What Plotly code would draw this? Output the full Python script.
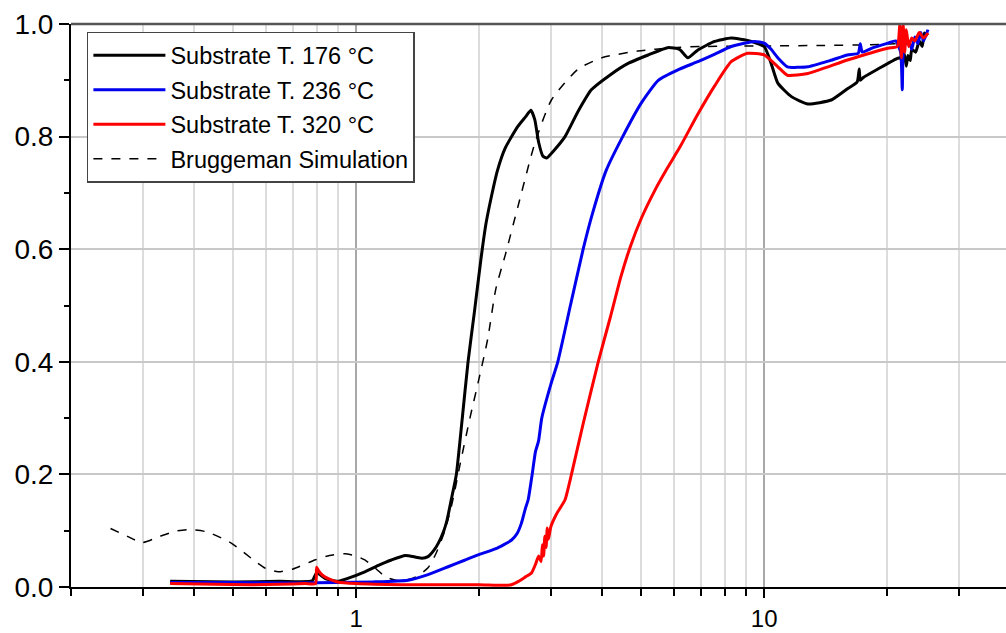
import math
import plotly.graph_objects as go

# ---- data ----
black_x = [0.35, 0.50, 0.65, 0.78, 0.80, 0.84, 0.90, 0.95, 1.05, 1.13, 1.22, 1.32, 1.40, 1.45, 1.50,
           1.55, 1.59, 1.64, 1.67, 1.71, 1.76, 1.82, 1.88, 1.95, 2.02, 2.08, 2.14, 2.22, 2.32, 2.49, 2.60, 2.68,
           2.74, 2.80, 2.87, 2.93, 3.05, 3.25, 3.50, 3.77, 4.20, 4.64, 5.20, 5.80, 6.20, 6.50, 6.88,
           7.56, 8.30, 9.10, 10.0, 10.4, 10.8, 11.66, 12.8, 14.6, 16.0, 16.9, 17.1, 17.2, 17.5, 19.0,
           20.8, 21.5, 21.8, 22.0, 22.3, 22.5, 22.8, 23.0, 23.5, 24.0, 24.4, 24.7, 25.2]
black_y = [0.010, 0.009, 0.010, 0.011, 0.025, 0.015, 0.010, 0.015, 0.027, 0.038, 0.048, 0.056, 0.053, 0.051, 0.054,
           0.065, 0.078, 0.100, 0.119, 0.155, 0.200, 0.300, 0.400, 0.490, 0.580, 0.645, 0.690, 0.740, 0.780, 0.818, 0.835, 0.847,
           0.830, 0.790, 0.765, 0.762, 0.775, 0.800, 0.845, 0.883, 0.910, 0.930, 0.945, 0.958, 0.955, 0.940, 0.954,
           0.969, 0.975, 0.971, 0.960, 0.930, 0.895, 0.871, 0.858, 0.865, 0.885, 0.897, 0.920, 0.900, 0.905, 0.920,
           0.936, 0.940, 0.935, 0.950, 0.925, 0.944, 0.935, 0.955, 0.950, 0.970, 0.960, 0.984, 0.980]

blue_x = [0.35, 0.50, 0.70, 0.90, 1.10, 1.34, 1.50, 1.68, 1.85, 1.99, 2.20, 2.40, 2.48, 2.54, 2.60,
          2.64, 2.70, 2.75, 2.80, 2.85, 3.00, 3.12, 3.35, 3.60, 3.80, 4.10, 4.50, 5.00, 5.50, 6.20, 6.88,
          7.50, 8.30, 9.47, 10.0, 10.4, 10.8, 11.4, 12.8, 14.5, 16.0, 17.0, 17.2, 17.4, 18.5, 20.1,
          21.0, 21.6, 21.8, 22.0, 22.6, 23.0, 23.4, 23.8, 24.2, 24.6, 25.2]
blue_y = [0.008, 0.008, 0.007, 0.008, 0.009, 0.012, 0.022, 0.036, 0.048, 0.057, 0.068, 0.083, 0.095, 0.113, 0.140,
          0.155, 0.200, 0.240, 0.260, 0.300, 0.360, 0.400, 0.500, 0.600, 0.665, 0.740, 0.800, 0.860, 0.900, 0.920, 0.933,
          0.945, 0.960, 0.969, 0.966, 0.955, 0.940, 0.924, 0.924, 0.935, 0.945, 0.948, 0.965, 0.950, 0.958, 0.966,
          0.970, 0.950, 0.883, 0.960, 0.970, 0.955, 0.977, 0.965, 0.985, 0.970, 0.990]

red_x = [0.35, 0.45, 0.55, 0.65, 0.75, 0.795, 0.80, 0.81, 0.83, 0.86, 0.90, 1.00, 1.30, 1.70, 2.00,
         2.30, 2.40, 2.50, 2.60, 2.69, 2.75, 2.80, 2.84, 2.86, 2.88, 2.90, 2.92, 2.94, 2.96, 3.00,
         3.10, 3.25, 3.37, 3.60, 3.92, 4.20, 4.45, 4.70, 5.00, 5.40, 5.80, 6.20, 6.88, 7.56, 8.30, 9.10, 10.0, 10.8,
         11.4, 12.8, 16.0, 20.1, 21.2, 21.5, 21.7, 21.9, 22.1, 22.3, 22.6, 23.0, 23.4, 24.0, 24.6, 25.2]
red_y = [0.006, 0.005, 0.004, 0.005, 0.006, 0.006, 0.035, 0.028, 0.020, 0.014, 0.009, 0.006, 0.004, 0.004, 0.004,
         0.003, 0.004, 0.010, 0.018, 0.025, 0.040, 0.055, 0.045, 0.075, 0.055, 0.090, 0.070, 0.105, 0.085, 0.107,
         0.130, 0.155, 0.200, 0.290, 0.400, 0.480, 0.550, 0.605, 0.655, 0.705, 0.745, 0.780, 0.840, 0.890, 0.933, 0.948, 0.945, 0.924,
         0.909, 0.912, 0.936, 0.957, 0.960, 1.000, 0.940, 1.000, 0.950, 0.990, 0.960, 0.975, 0.970, 0.985, 0.975, 0.984]

brug_x = [0.25, 0.275, 0.299, 0.33, 0.36, 0.387, 0.43, 0.494, 0.56, 0.60, 0.644, 0.70, 0.792, 0.86, 0.938,
          1.00, 1.05, 1.12, 1.18, 1.25, 1.32, 1.40, 1.50, 1.57, 1.65, 1.72, 1.80, 1.90, 2.00, 2.10,
          2.20, 2.32, 2.49, 2.74, 3.01, 3.50, 4.00, 4.90, 6.00, 7.00, 10.0, 14.0, 18.0, 21.0]
brug_y = [0.104, 0.090, 0.079, 0.090, 0.099, 0.102, 0.098, 0.078, 0.048, 0.033, 0.027, 0.032, 0.048, 0.056, 0.059,
          0.055, 0.048, 0.032, 0.018, 0.012, 0.012, 0.018, 0.034, 0.060, 0.100, 0.150, 0.220, 0.300, 0.370, 0.440,
          0.530, 0.590, 0.675, 0.788, 0.865, 0.920, 0.940, 0.952, 0.958, 0.960, 0.961, 0.962, 0.963, 0.965]

series_names = ["Substrate T. 176 °C", "Substrate T. 236 °C", "Substrate T. 320 °C", "Bruggeman Simulation"]

x_major = [1, 10]
x_major_text = ["1", "10"]
x_minor = [0.2, 0.3, 0.4, 0.5, 0.6, 0.7, 0.8, 0.9, 2, 3, 4, 5, 6, 7, 8, 9, 20, 30]
y_major = [0.0, 0.2, 0.4, 0.6, 0.8, 1.0]
y_major_text = ["0.0", "0.2", "0.4", "0.6", "0.8", "1.0"]
y_minor = [0.1, 0.3, 0.5, 0.7, 0.9]

fig = go.Figure()
fig.add_trace(go.Scatter(x=brug_x, y=brug_y, mode="lines", name=series_names[3], legendrank=4,
                         legendgroup="d",
                         line=dict(color="black", width=1.5, dash="dash", shape="spline", smoothing=0.6)))
fig.add_trace(go.Scatter(x=black_x, y=black_y, mode="lines", name=series_names[0], legendrank=1,
                         legendgroup="a",
                         line=dict(color="black", width=3, shape="spline", smoothing=0.5)))
fig.add_trace(go.Scatter(x=blue_x, y=blue_y, mode="lines", name=series_names[1], legendrank=2,
                         legendgroup="b",
                         line=dict(color="#0000ee", width=3, shape="spline", smoothing=0.5)))
fig.add_trace(go.Scatter(x=red_x, y=red_y, mode="lines", name=series_names[2], legendrank=3,
                         legendgroup="c",
                         line=dict(color="#ff0000", width=3, shape="spline", smoothing=0.5)))

fig.update_layout(
    width=1006, height=633,
    margin=dict(l=71, r=0, t=24, b=46),
    plot_bgcolor="white", paper_bgcolor="white",
    font=dict(family="Liberation Sans, Arial, sans-serif", color="black"),
    legend=dict(x=0.017, y=0.986, xanchor="left", yanchor="top",
                bgcolor="white", bordercolor="#444444", borderwidth=1.5,
                tracegroupgap=1, itemwidth=72,
                font=dict(size=23.5, color="black")),
    shapes=[dict(type="line", xref="paper", yref="paper", x0=0, x1=1, y0=1, y1=1,
                 line=dict(color="#555555", width=2.5))],
)
fig.update_xaxes(
    type="log", range=[math.log10(0.2), 1.5927], automargin=False,
    showline=True, linecolor="black", linewidth=2,
    tickmode="array", tickvals=x_major, ticktext=x_major_text,
    ticks="outside", ticklen=9, tickwidth=2, tickcolor="black",
    tickfont=dict(size=24),
    showgrid=True, gridcolor="#a8a8a8", gridwidth=1.5, zeroline=False,
    minor=dict(tickmode="array", tickvals=x_minor, ticks="outside", ticklen=7, tickwidth=2,
               tickcolor="black", showgrid=True, gridcolor="#dcdcdc", gridwidth=1.5),
)
fig.update_yaxes(
    range=[0, 1.0], automargin=False,
    showline=True, linecolor="black", linewidth=2,
    tickmode="array", tickvals=y_major, ticktext=y_major_text,
    ticks="outside", ticklen=10, tickwidth=2, tickcolor="black",
    tickfont=dict(size=28),
    showgrid=True, gridcolor="#c8c8c8", gridwidth=1.5, zeroline=False,
    minor=dict(tickmode="array", tickvals=y_minor, ticks="outside", ticklen=5, tickwidth=2,
               tickcolor="black", showgrid=False),
)

fig.write_html("out.html")
